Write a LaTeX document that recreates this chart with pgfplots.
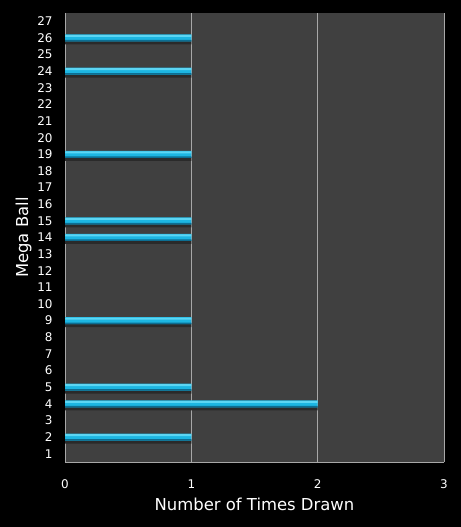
\documentclass[border=0pt]{standalone}
\usepackage{pgfplots}
\pgfplotsset{compat=1.18}
\usepackage{pgfplotstable}
\usepackage{fontspec}
\setmainfont{DejaVu Sans}
\definecolor{plotbg}{HTML}{404040}
\definecolor{gridgray}{HTML}{A8A8A8}
\definecolor{barmid}{HTML}{1DB6E2}
\definecolor{bartop}{HTML}{5CD6F4}
\definecolor{barbot}{HTML}{0C6E92}
\definecolor{barshadow}{HTML}{2A2A2A}
\pgfplotstableread{
value ball
1 2
2 4
1 5
1 9
1 14
1 15
1 19
1 24
1 26
}\megadata
\begin{document}
\begin{tikzpicture}
  \fill[black] (0,0) rectangle (461bp,527bp);
  \begin{axis}[
    at={(65bp,65bp)}, anchor=south west,
    scale only axis,
    width=379bp, height=449bp,
    xbar,
    xmin=0, xmax=3,
    ymin=0.5, ymax=27.5,
    xtick={0,1,2,3},
    ytick={1,...,27},
    axis background/.style={fill=plotbg},
    axis x line*=bottom, axis y line*=left,
    axis line style={gridgray, line width=0.8pt, -},
    xmajorgrids=true,
    grid style={gridgray, line width=0.8pt},
    major tick length=0pt,
    tick label style={white, font=\fontsize{12}{14}\selectfont},
    /pgf/number format/assume math mode=true,
    xticklabel style={yshift=-14bp},
    yticklabel style={xshift=-9bp},
    xlabel={Number of Times Drawn},
    ylabel={Mega Ball},
    label style={white, font=\fontsize{16.5}{18}\selectfont},
    xlabel style={yshift=-3bp},
    ylabel style={yshift=-1bp},
  ]
    % shadow below each bar
    \addplot[draw=none, fill=barshadow, bar width=4bp, bar shift=-4.5bp]
      table[x=value, y=ball] {\megadata};
    \addplot[draw=none, fill=barmid, bar width=7bp, bar shift=0bp]
      table[x=value, y=ball] {\megadata};
    \addplot[draw=none, fill=bartop, bar width=2bp, bar shift=2bp]
      table[x=value, y=ball] {\megadata};
    \addplot[draw=none, fill=barbot, bar width=1.5bp, bar shift=-2.75bp]
      table[x=value, y=ball] {\megadata};
  \end{axis}
\end{tikzpicture}
\end{document}
